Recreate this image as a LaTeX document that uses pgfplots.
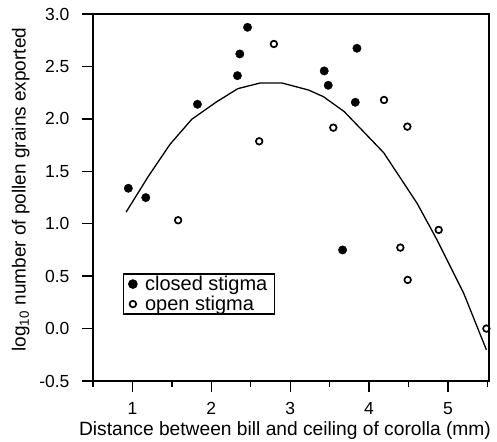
\documentclass[border=0pt]{standalone}
\usepackage{fontspec}
\setmainfont{Liberation Sans}
\usepackage{pgfplots}
\pgfplotsset{compat=1.18}
\begin{document}
\begin{tikzpicture}
\useasboundingbox (-93pt,-60pt) rectangle (404pt,381pt);
\begin{axis}[
  at={(0pt,0pt)}, anchor=south west,
  scale only axis, width=396pt, height=367pt,
  xmin=0.5, xmax=5.52, ymin=-0.5, ymax=3.0,
  axis line style={line width=1.3pt},
  every tick/.style={line width=1.3pt, black},
  tick align=outside,
  xtick={1,2,3,4,5}, minor xtick={0.5,1.5,2.5,3.5,4.5,5.5},
  ytick={-0.5,0,0.5,1,1.5,2,2.5,3},
  xtick pos=bottom, ytick pos=left,
  major tick length=11pt, minor tick length=6pt,
  /pgf/number format/assume math mode=true,
  yticklabel style={/pgf/number format/fixed, /pgf/number format/fixed zerofill, /pgf/number format/precision=1, font=\fontsize{17.5}{19}\selectfont, xshift=-9pt},
  xticklabel style={font=\fontsize{17.5}{19}\selectfont, yshift=-7pt},
  xlabel={Distance between bill and ceiling of corolla (mm)},
  ylabel={log\textsubscript{10} number of pollen grains exported},
  xlabel style={font=\fontsize{19.2}{21}\selectfont, yshift=0pt, xshift=-6pt},
  ylabel style={font=\fontsize{19}{21}\selectfont, yshift=3pt, xshift=8pt},
  clip=false,
  legend style={at={(rel axis cs:0.076,0.293)}, anchor=north west, draw=black, line width=1.2pt, font=\fontsize{20}{22}\selectfont, inner xsep=5pt, inner ysep=0pt, row sep=0pt, column sep=6pt},
  legend cell align=left,
]
\addplot[only marks, mark=*, mark size=4.2pt, black] coordinates {
(0.948,1.338) (1.169,1.249) (1.824,2.139) (2.331,2.412) (2.361,2.619) (2.459,2.873)
(3.431,2.457) (3.482,2.320) (3.846,2.673) (3.825,2.158) (3.664,0.750)
};
\addlegendentry{closed stigma}
\addplot[only marks, mark=o, mark size=3.3pt, line width=1.7pt, black] coordinates {
(2.793,2.714) (2.607,1.786) (1.579,1.033) (3.546,1.916) (4.189,2.180) (4.485,1.926)
(4.882,0.941) (4.396,0.772) (4.489,0.464) (5.487,0.0)
};
\addlegendentry{open stigma}
\addplot[black, line width=1.3pt, mark=none] coordinates {
(0.919,1.110) (1.2,1.45) (1.477,1.758) (1.752,1.996) (2.07,2.164) (2.336,2.288)
(2.619,2.342) (2.895,2.342) (3.232,2.275) (3.42,2.212) (3.685,2.069) (4.184,1.678)
(4.608,1.195) (4.861,0.846) (5.199,0.337) (5.487,-0.203)
};
\end{axis}
\end{tikzpicture}
\end{document}
